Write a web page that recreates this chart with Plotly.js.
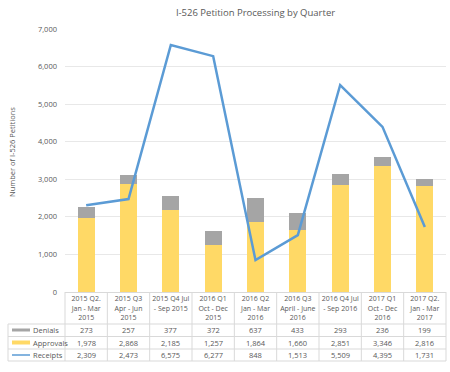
<!DOCTYPE html>
<html>
<head>
<meta charset="utf-8">
<script src="https://cdn.plot.ly/plotly-3.0.1.min.js"></script>
<style>html,body{margin:0;padding:0;background:#fff;}#chart{width:450px;height:372px;}</style>
</head>
<body>
<div id="chart"></div>
<script>
var quarters = [
  "2015 Q2.<br>Jan - Mar<br>2015",
  "2015 Q3<br>Apr - Jun<br>2015",
  "2015 Q4 Jul<br>- Sep 2015",
  "2016 Q1<br>Oct - Dec<br>2015",
  "2016 Q2<br>Jan - Mar<br>2016",
  "2016 Q3<br>April - June<br>2016",
  "2016 Q4 Jul<br>- Sep 2016",
  "2017 Q1<br>Oct - Dec<br>2016",
  "2017 Q2.<br>Jan - Mar<br>2017"
];
var denials   = [273, 257, 377, 372, 637, 433, 293, 236, 199];
var approvals = [1978, 2868, 2185, 1257, 1864, 1660, 2851, 3346, 2816];
var receipts  = [2309, 2473, 6575, 6277, 848, 1513, 5509, 4395, 1731];
var seriesNames = ["Denials", "Approvals", "Receipts"];
var yTicks = [0, 1000, 2000, 3000, 4000, 5000, 6000, 7000];

var C_DEN = "#A5A5A5", C_APP = "#FFD966", C_REC = "#5B9BD5";
var TXT = "#595959", GRID = "#D9D9D9";
var FONT = "Open Sans, Noto Sans, sans-serif";

// layout geometry (pixels)
var W = 450, H = 372, L = 65, R = 4, T = 29, B = 80;
var plotW = W - L - R, plotH = H - T - B;
function py(p) { return (H - B - p) / plotH; }   // pixel y -> paper y
function px(p) { return (p - L) / plotW; }       // pixel x -> paper x

var traces = [
  {type: "bar", x: quarters, y: approvals, name: "Approvals", marker: {color: C_APP}, hoverinfo: "skip"},
  {type: "bar", x: quarters, y: denials, name: "Denials", marker: {color: C_DEN}, hoverinfo: "skip"},
  {type: "scatter", mode: "lines", x: quarters, y: receipts, name: "Receipts", line: {color: C_REC, width: 2.5}, hoverinfo: "skip"}
];

var shapes = [], annotations = [];
var rowY = [330, 342.5, 355];     // centres of table rows
var rowLines = [324, 336.5, 349, 361];
var rows = [denials, approvals, receipts];
var n = quarters.length;

for (var i = 0; i <= n; i++) {
  shapes.push({type: "line", xref: "paper", yref: "paper", x0: i / n, x1: i / n, y0: py(292), y1: py(361),
    line: {color: GRID, width: 1}});
}
shapes.push({type: "line", xref: "paper", yref: "paper", x0: px(8), x1: px(8), y0: py(324), y1: py(361), line: {color: GRID, width: 1}});
rowLines.forEach(function (yy) {
  shapes.push({type: "line", xref: "paper", yref: "paper", x0: px(8), x1: 1, y0: py(yy), y1: py(yy), line: {color: GRID, width: 1}});
});
shapes.push({type: "rect", xref: "paper", yref: "paper", x0: px(12), x1: px(30), y0: py(rowY[0] + 1.5), y1: py(rowY[0] - 1.5), fillcolor: C_DEN, line: {width: 0}});
shapes.push({type: "rect", xref: "paper", yref: "paper", x0: px(12), x1: px(30), y0: py(rowY[1] + 2), y1: py(rowY[1] - 2), fillcolor: C_APP, line: {width: 0}});
shapes.push({type: "line", xref: "paper", yref: "paper", x0: px(12), x1: px(30), y0: py(rowY[2]), y1: py(rowY[2]), line: {color: C_REC, width: 1.5}});

seriesNames.forEach(function (nm, r) {
  annotations.push({xref: "paper", yref: "paper", x: px(31), y: py(rowY[r]), xanchor: "left", yanchor: "middle",
    text: nm, showarrow: false, font: {family: FONT, size: 7.5, color: TXT}});
});
rows.forEach(function (vals, r) {
  vals.forEach(function (v, i) {
    annotations.push({xref: "x", yref: "paper", x: i, y: py(rowY[r]), xanchor: "center", yanchor: "middle",
      text: v.toLocaleString("en-US"), showarrow: false, font: {family: FONT, size: 7.5, color: TXT}});
  });
});
annotations.push({xref: "paper", yref: "paper", x: px(12), y: py(152), xanchor: "center", yanchor: "middle",
  text: "Number of I-526 Petitions", textangle: -90, showarrow: false, font: {family: FONT, size: 7.5, color: TXT}});

var layout = {
  width: W, height: H,
  margin: {l: L, r: R, t: T, b: B, pad: 0},
  paper_bgcolor: "#fff", plot_bgcolor: "#fff",
  showlegend: false,
  barmode: "stack", bargap: 0.6,
  title: {text: "I-526 Petition Processing by Quarter", x: 0.5, xref: "paper", xanchor: "center", y: 1 - 13 / H, yanchor: "middle",
    font: {family: FONT, size: 9.5, color: TXT}},
  xaxis: {type: "category", range: [-0.5, n - 0.5], showgrid: false, zeroline: false, showline: true, linecolor: GRID, linewidth: 1,
    ticks: "", tickfont: {family: FONT, size: 7, color: TXT}, tickangle: 0, ticklabelstandoff: 0, fixedrange: true},
  yaxis: {range: [0, 7000], tickvals: yTicks, tickformat: ",d", showgrid: true, gridcolor: "#E8E8E8", gridwidth: 1,
    zeroline: false, showline: false, ticks: "", tickfont: {family: FONT, size: 7.5, color: TXT}, ticklabelstandoff: 7, fixedrange: true},
  shapes: shapes,
  annotations: annotations
};

Plotly.newPlot("chart", traces, layout, {displayModeBar: false, staticPlot: true});
</script>
</body>
</html>
